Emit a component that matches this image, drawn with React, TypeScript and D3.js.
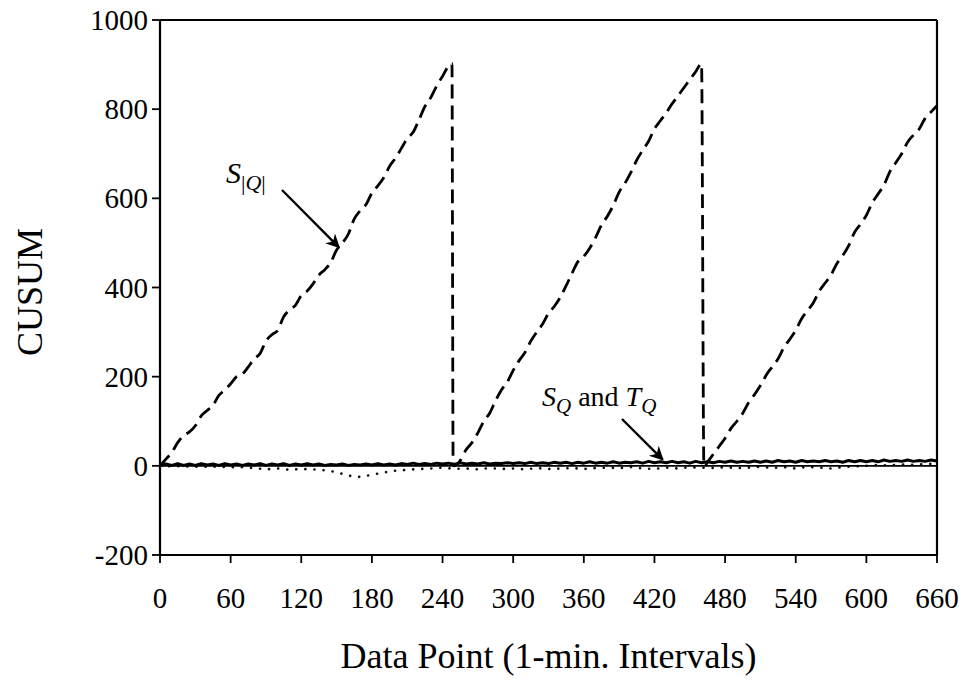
import React, { useEffect, useRef } from "react";
import * as d3 from "d3";

// S|Q| cusum, three ramps with resets (x = data point, y = cusum)
const absQx: number[] = [
  0, 5, 10, 15, 20, 25, 30, 35, 40, 45, 50, 55, 60, 65, 70, 75, 80, 85, 90, 95,
  100, 105, 110, 115, 120, 125, 130, 135, 140, 145, 150, 155, 160, 165, 170,
  175, 180, 185, 190, 195, 200, 205, 210, 215, 220, 225, 230, 235, 240, 245,
  248, 249,
  250, 255, 260, 265, 270, 275, 280, 285, 290, 295, 300, 305, 310, 315, 320,
  325, 330, 335, 340, 345, 350, 355, 360, 365, 370, 375, 380, 385, 390, 395,
  400, 405, 410, 415, 420, 425, 430, 435, 440, 445, 450, 455, 460, 462,
  463, 465, 470, 475, 480, 485, 490, 495, 500, 505, 510, 515, 520, 525, 530,
  535, 540, 545, 550, 555, 560, 565, 570, 575, 580, 585, 590, 595, 600, 605,
  610, 615, 620, 625, 630, 635, 640, 645, 650, 655, 660,
];
const absQy: number[] = [
  0, 15, 30, 52, 68, 76, 90, 112, 124, 136, 158, 170, 184, 200, 206, 222, 240,
  252, 280, 294, 304, 334, 350, 360, 382, 392, 408, 428, 440, 456, 484, 500,
  520, 554, 572, 586, 612, 628, 646, 672, 690, 712, 734, 748, 776, 806, 826,
  852, 874, 896, 902, 2,
  0, 12, 36, 52, 74, 100, 118, 146, 170, 188, 214, 236, 254, 280, 300, 318,
  342, 358, 378, 404, 432, 458, 470, 488, 512, 540, 560, 584, 614, 634, 658,
  686, 708, 728, 756, 774, 792, 812, 830, 848, 866, 884, 902, 0,
  0, 8, 26, 44, 62, 84, 100, 118, 142, 160, 180, 204, 222, 240, 266, 284, 304,
  330, 348, 366, 392, 410, 428, 454, 472, 494, 524, 542, 562, 590, 610, 630,
  660, 680, 700, 726, 742, 756, 780, 794, 808,
];

// S_Q (solid), every 5 data points from 0 to 660
const sQ: number[] = [
  0, 4, 1, 5, 1, 4, 1, 5, 2, 4, 1, 5, 2, 4, 1, 4, 2, 5, 1, 4, 2,
  5, 1, 4, 2, 5, 2, 4, 1, 3, 2, 4, 1, 3, 2, 4, 2, 5, 2, 4, 2,
  5, 3, 6, 3, 5, 3, 6, 4, 6, 3, 7, 4, 6, 4, 7, 4, 6, 5, 7, 5,
  7, 5, 8, 5, 7, 5, 8, 6, 8, 5, 8, 6, 9, 6, 8, 6, 9, 6, 8, 7,
  9, 6, 10, 7, 9, 7, 10, 7, 9, 6, 10, 7, 9, 7, 10, 8, 11, 8, 10, 8,
  11, 8, 11, 8, 12, 9, 11, 8, 12, 9, 11, 9, 12, 9, 11, 8, 12, 9, 12, 9,
  12, 9, 13, 10, 12, 10, 13, 10, 12, 10, 13, 11,
];

// T_Q (dotted), every 10 data points from 0 to 660
const tQ: number[] = [
  0, -1, -1, -2, -2, -2, -3, -3, -5, -8, -6, -9, -7, -8, -10, -14, -22, -25,
  -20, -15, -11, -9, -7, -6, -4, -7, -6, -8, -5, -7, -6, -8, -5, -7, -6, -5,
  -7, -5, -4, -5, -3, -6, -7, -4, -6, -3, -4, -5, -3, -5, -4, -2, -5, -3, -6,
  -2, -4, -6, -3, -1, 0, 2, 1, 3, 2, 4, 5,
];

const xTicks = [0, 60, 120, 180, 240, 300, 360, 420, 480, 540, 600, 660];
const yTicks = [-200, 0, 200, 400, 600, 800, 1000];

const W = 963;
const H = 680;
const M = { left: 160, right: 26, top: 20, bottom: 125 };

export default function App() {
  const ref = useRef<SVGSVGElement>(null);

  useEffect(() => {
    const svg = d3.select(ref.current);
    svg.selectAll("*").remove();
    const font = "'Liberation Serif', 'Times New Roman', serif";

    const x = d3.scaleLinear().domain([0, 660]).range([M.left, W - M.right]);
    const y = d3.scaleLinear().domain([-200, 1000]).range([H - M.bottom, M.top]);

    const line = d3
      .line<[number, number]>()
      .x((d) => x(d[0]))
      .y((d) => y(d[1]));

    // T_Q dotted
    svg
      .append("path")
      .attr("d", line(tQ.map((v, i) => [i * 10, v] as [number, number])))
      .attr("fill", "none")
      .attr("stroke", "#111")
      .attr("stroke-width", 2.6)
      .attr("stroke-linecap", "round")
      .attr("stroke-dasharray", "0.1 9");

    // S_Q solid
    svg
      .append("path")
      .attr("d", line(sQ.map((v, i) => [i * 5, v] as [number, number])))
      .attr("fill", "none")
      .attr("stroke", "#000")
      .attr("stroke-width", 3)
      .attr("stroke-linejoin", "round");

    // S|Q| dashed
    svg
      .append("path")
      .attr(
        "d",
        line.curve(d3.curveMonotoneX)(
          absQx.map((v, i) => [v, absQy[i]] as [number, number])
        )
      )
      .attr("fill", "none")
      .attr("stroke", "#000")
      .attr("stroke-width", 2.8)
      .attr("stroke-dasharray", "14 7");

    // frame
    const g = svg.append("g").attr("stroke", "#000").attr("stroke-width", 2.2);
    g.append("line").attr("x1", x(0)).attr("x2", x(660)).attr("y1", y(1000)).attr("y2", y(1000));
    g.append("line").attr("x1", x(660)).attr("x2", x(660)).attr("y1", y(1000)).attr("y2", y(-200));
    g.append("line").attr("x1", x(0)).attr("x2", x(660)).attr("y1", y(-200)).attr("y2", y(-200));
    g.append("line").attr("x1", x(0)).attr("x2", x(0)).attr("y1", y(1000)).attr("y2", y(-200));
    g.append("line").attr("x1", x(0)).attr("x2", x(660)).attr("y1", y(0)).attr("y2", y(0)).attr("stroke-width", 1.8);

    // y ticks
    yTicks.forEach((t) => {
      g.append("line")
        .attr("x1", x(0) - 8)
        .attr("x2", x(0))
        .attr("y1", y(t))
        .attr("y2", y(t))
        .attr("stroke-width", 1.8);
      svg
        .append("text")
        .attr("x", x(0) - 12)
        .attr("y", y(t))
        .attr("dy", "0.35em")
        .attr("text-anchor", "end")
        .attr("font-family", font)
        .attr("font-size", 29)
        .text(t);
    });

    // x ticks
    xTicks.forEach((t) => {
      g.append("line")
        .attr("x1", x(t))
        .attr("x2", x(t))
        .attr("y1", y(-200))
        .attr("y2", y(-200) + 8)
        .attr("stroke-width", 1.8);
      svg
        .append("text")
        .attr("x", x(t))
        .attr("y", y(-200) + 53)
        .attr("text-anchor", "middle")
        .attr("font-family", font)
        .attr("font-size", 29)
        .text(t);
    });

    // axis titles
    svg
      .append("text")
      .attr("x", (x(0) + x(660)) / 2)
      .attr("y", 668)
      .attr("text-anchor", "middle")
      .attr("font-family", font)
      .attr("font-size", 36)
      .text("Data Point (1-min. Intervals)");
    svg
      .append("text")
      .attr("transform", `translate(42, ${y(390)}) rotate(-90)`)
      .attr("text-anchor", "middle")
      .attr("font-family", font)
      .attr("font-size", 36)
      .text("CUSUM");

    // arrowhead
    svg
      .append("defs")
      .append("marker")
      .attr("id", "arr")
      .attr("viewBox", "0 0 10 10")
      .attr("refX", 9)
      .attr("refY", 5)
      .attr("markerWidth", 18)
      .attr("markerHeight", 14)
      .attr("markerUnits", "userSpaceOnUse")
      .attr("orient", "auto")
      .append("path")
      .attr("d", "M0,0 L10,5 L0,10 L3,5 Z")
      .attr("fill", "#000");

    // S|Q| label
    const l1 = svg
      .append("text")
      .attr("x", 226)
      .attr("y", 183)
      .attr("font-family", font)
      .attr("font-size", 30);
    l1.append("tspan").attr("font-style", "italic").text("S");
    l1.append("tspan").attr("dy", 7).attr("font-size", 22).text("|");
    l1.append("tspan").attr("font-size", 22).attr("font-style", "italic").text("Q");
    l1.append("tspan").attr("font-size", 22).text("|");
    svg
      .append("line")
      .attr("x1", 282)
      .attr("y1", 190)
      .attr("x2", x(152))
      .attr("y2", y(490))
      .attr("stroke", "#000")
      .attr("stroke-width", 2.4)
      .attr("marker-end", "url(#arr)");

    // S_Q and T_Q label
    const l2 = svg
      .append("text")
      .attr("x", 542)
      .attr("y", 406)
      .attr("font-family", font)
      .attr("font-size", 28);
    l2.append("tspan").attr("font-style", "italic").text("S");
    l2.append("tspan").attr("dy", 7).attr("font-size", 21).attr("font-style", "italic").text("Q");
    l2.append("tspan").attr("dy", -7).text(" and ");
    l2.append("tspan").attr("font-style", "italic").text("T");
    l2.append("tspan").attr("dy", 7).attr("font-size", 21).attr("font-style", "italic").text("Q");
    svg
      .append("line")
      .attr("x1", 622)
      .attr("y1", 419)
      .attr("x2", x(427))
      .attr("y2", y(14))
      .attr("stroke", "#000")
      .attr("stroke-width", 2.4)
      .attr("marker-end", "url(#arr)");
  }, []);

  return (
    <svg
      ref={ref}
      width={W}
      height={H}
      style={{ position: "absolute", left: 0, top: 0, background: "#fff" }}
    />
  );
}
